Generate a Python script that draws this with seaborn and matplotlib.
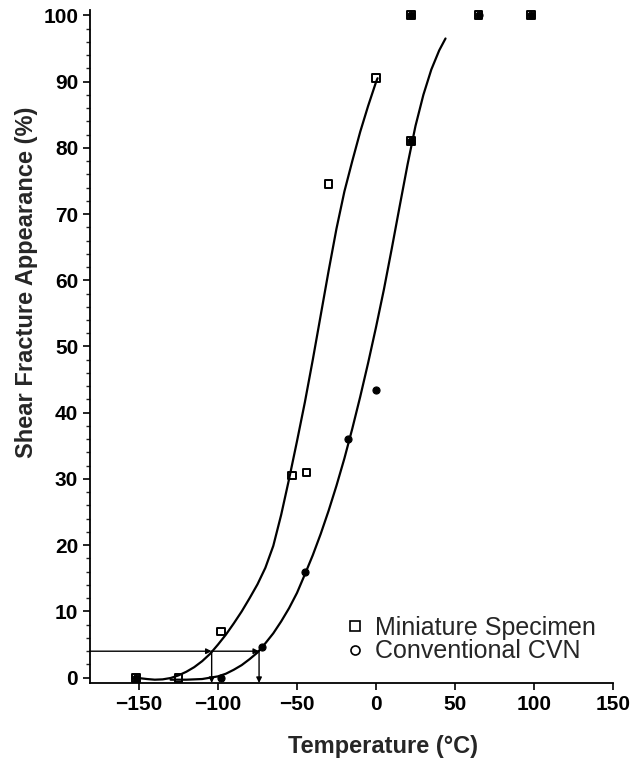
import numpy as np
import pandas as pd
import matplotlib
matplotlib.use("Agg")
import matplotlib.pyplot as plt
import seaborn as sns
from matplotlib.lines import Line2D
from matplotlib.ticker import MultipleLocator

# ---- data ----
mini_temp = [-152, -125, -98, -53, -44, -30, 0, 22, 22, 65, 98]
mini_sfa = [0, 0, 7, 30.5, 31, 74.5, 90.5, 81, 100, 100, 100]

cvn_temp = [-152, -98, -72, -45, -18, 0, 22, 22, 65, 98]
cvn_sfa = [0, 0, 4.7, 16, 36, 43.5, 81, 100, 100, 100]

# fitted transition curves
mini_curve_temp = [-152, -145, -140, -135, -130, -125, -120, -115, -110, -105, -100, -95, -90,
                   -85, -80, -75, -70, -65, -60, -55, -50, -45, -40, -35, -30, -25, -20,
                   -15, -10, -5, 0, 1]
mini_curve_sfa = [0.0, -0.2, -0.3, -0.25, -0.05, 0.35, 0.9, 1.6, 2.5, 3.6, 5.0, 6.5, 8.2,
                  10.0, 12.0, 14.1, 16.6, 19.9, 24.6, 30.0, 35.7, 41.6, 48.0, 54.7, 61.4, 67.8, 73.4,
                  78.0, 82.4, 86.3, 89.9, 90.5]

cvn_curve_temp = [-130, -120, -110, -105, -100, -95, -90, -85, -80, -75, -70, -65, -60, -55, -50,
                  -45, -40, -35, -30, -25, -20, -15, -10, -5, 0, 5, 10, 15, 20, 25, 30, 35, 40, 44]
cvn_curve_sfa = [-0.3, -0.3, -0.2, 0.0, 0.2, 0.6, 1.2, 1.9, 2.8, 3.8, 5.2, 6.7, 8.5, 10.5, 12.8,
                 15.6, 18.5, 21.7, 25.2, 29.0, 33.1, 37.6, 42.4, 47.5, 52.9, 58.6, 64.8, 71.2, 77.5,
                 83.3, 88.0, 91.8, 94.7, 96.5]

threshold_sfa = 4
threshold_temps = [-104, -74]

x_ticks = [-150, -100, -50, 0, 50, 100, 150]
y_ticks = [0, 10, 20, 30, 40, 50, 60, 70, 80, 90, 100]
labels = ["Miniature Specimen", "Conventional CVN"]

# ---- plotting ----
sns.set_style("ticks")
plt.rcParams['font.family'] = ['Liberation Sans', 'DejaVu Sans']

fig = plt.figure(figsize=(6.4, 7.68), dpi=100)
ax = fig.add_axes([90/640, 1-683/768, 523/640, 673/768])

xlim = (-181, 148)
ylim = (-0.8, 100.8)

curves = pd.concat([
    pd.DataFrame({"T": mini_curve_temp, "S": mini_curve_sfa, "g": labels[0]}),
    pd.DataFrame({"T": cvn_curve_temp, "S": cvn_curve_sfa, "g": labels[1]}),
])
sns.lineplot(data=curves, x="T", y="S", units="g", estimator=None, sort=False,
             color="black", linewidth=1.6, ax=ax, legend=False)

cvn_df = pd.DataFrame({"T": cvn_temp, "S": cvn_sfa})
mini_df = pd.DataFrame({"T": mini_temp, "S": mini_sfa})
sns.scatterplot(data=cvn_df, x="T", y="S", marker="o", s=26, color="black",
                edgecolor="black", linewidth=0.8, ax=ax, zorder=4)
sns.scatterplot(data=mini_df, x="T", y="S", marker="s", s=30, facecolor="none",
                edgecolor="black", linewidth=1.4, ax=ax, zorder=5)

# threshold arrows
arrow_kw = dict(arrowstyle="-|>", color="black", lw=1.0, mutation_scale=8,
                shrinkA=0, shrinkB=0)
ax.annotate("", xy=(threshold_temps[0], threshold_sfa), xytext=(xlim[0], threshold_sfa),
            arrowprops=arrow_kw)
ax.annotate("", xy=(threshold_temps[1], threshold_sfa), xytext=(threshold_temps[0], threshold_sfa),
            arrowprops=arrow_kw)
for t in threshold_temps:
    ax.annotate("", xy=(t, ylim[0]), xytext=(t, threshold_sfa), arrowprops=arrow_kw)

ax.set_xlim(*xlim)
ax.set_ylim(*ylim)
ax.set_xticks(x_ticks)
ax.set_yticks(y_ticks)
ax.set_xticklabels([f"\u2212{abs(v)}" if v < 0 else str(v) for v in x_ticks])
ax.yaxis.set_minor_locator(MultipleLocator(2))
ax.tick_params(axis="both", which="major", labelsize=15, length=5, width=1.2,
               direction="out", color="black", labelcolor="black")
ax.tick_params(axis="y", which="minor", length=3, width=1.0, direction="out")
for lab in ax.get_xticklabels() + ax.get_yticklabels():
    lab.set_fontweight("bold")

for side in ["top", "right"]:
    ax.spines[side].set_visible(False)
for side in ["left", "bottom"]:
    ax.spines[side].set_linewidth(1.3)
    ax.spines[side].set_color("black")

ax.set_xlabel("Temperature (\u00b0C)", fontsize=17, fontweight="bold", labelpad=8)
ax.set_ylabel("Shear Fracture Appearance (%)", fontsize=17, fontweight="bold", labelpad=8)
ax.xaxis.set_label_coords(0.56, -0.078)
ax.yaxis.set_label_coords(-0.10, 0.595)

handles = [
    Line2D([], [], marker="s", linestyle="none", markersize=6.5, markerfacecolor="none",
           markeredgecolor="black", markeredgewidth=1.2),
    Line2D([], [], marker="o", linestyle="none", markersize=6.5, markerfacecolor="none",
           markeredgecolor="black", markeredgewidth=1.2),
]
fig.legend(handles, labels, loc="center left", bbox_to_anchor=(347.5/640, 1-639.5/768),
           frameon=False, fontsize=18, borderpad=0, borderaxespad=0, handlelength=0.6,
           handletextpad=0.5, labelspacing=0.0)

fig.savefig("out.png", dpi=100, facecolor="white")
